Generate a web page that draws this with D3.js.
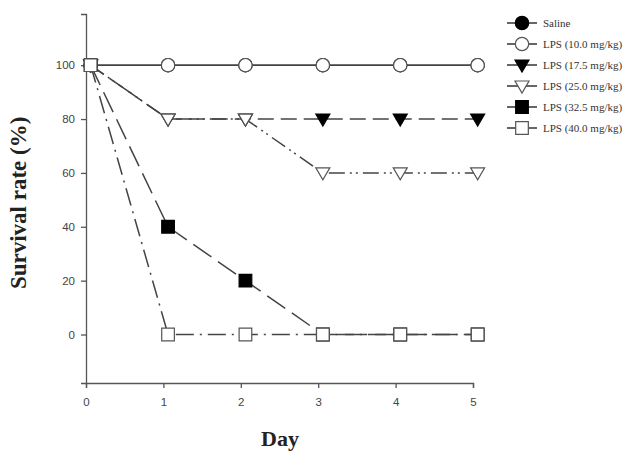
<!DOCTYPE html>
<html>
<head>
<meta charset="utf-8">
<script src="https://cdn.jsdelivr.net/npm/d3@7"></script>
<style>
  body { margin: 0; background: #fff; }
  svg { display: block; }
</style>
</head>
<body>
<div id="chart"></div>
<script>
// markers sit slightly right of the integer ticks in the original
const days = [0.06, 1.06, 2.06, 3.06, 4.06, 5.06];
const xTicks = [0, 1, 2, 3, 4, 5];
const yTicks = [0, 20, 40, 60, 80, 100];

const seriesNames = ["Saline", "LPS (10.0 mg/kg)", "LPS (17.5 mg/kg)", "LPS (25.0 mg/kg)", "LPS (32.5 mg/kg)", "LPS (40.0 mg/kg)"];
const saline = [100, 100, 100, 100, 100, 100];
const lps10 = [100, 100, 100, 100, 100, 100];
const lps175 = [100, 80, 80, 80, 80, 80];
const lps25 = [100, 80, 80, 60, 60, 60];
const lps325 = [100, 40, 20, 0, 0, 0];
const lps40 = [100, 0, 0, 0, 0, 0];

const styles = [
  { symbol: d3.symbolCircle, fill: "#000", dash: null },
  { symbol: d3.symbolCircle, fill: "#fff", dash: null },
  { symbol: "tri", fill: "#000", dash: "16,7" },
  { symbol: "tri", fill: "#fff", dash: "16,5,2,4,2,5" },
  { symbol: d3.symbolSquare, fill: "#000", dash: "22,8" },
  { symbol: d3.symbolSquare, fill: "#fff", dash: "18,6,2,6" }
];

const series = [saline, lps10, lps175, lps25, lps325, lps40].map((vals, i) => ({
  name: seriesNames[i],
  values: vals.map((v, j) => ({ day: days[j], rate: v })),
  style: styles[i]
}));

const svg = d3.select("#chart").append("svg")
  .attr("width", 642)
  .attr("height", 451);

const x = d3.scaleLinear().domain([0, 5]).range([86, 473]);
const y = d3.scaleLinear().domain([-18, 119]).range([383, 14]);

const grey = "#555";

// axes
svg.append("g")
  .attr("transform", `translate(0,${y(-18)})`)
  .call(d3.axisBottom(x).tickValues(xTicks).tickFormat(d3.format("d")).tickSize(5).tickPadding(10))
  .call(g => g.select(".domain").attr("stroke", grey).attr("stroke-width", 1.3))
  .call(g => g.selectAll("line").attr("stroke", grey).attr("stroke-width", 1.3))
  .call(g => g.selectAll("text").attr("font-family", "Liberation Sans, Arial, sans-serif").attr("font-size", 11.5).attr("fill", "#444"));

svg.append("g")
  .attr("transform", `translate(${x(0)},0)`)
  .call(d3.axisLeft(y).tickValues(yTicks).tickSize(5).tickPadding(6))
  .call(g => g.select(".domain").attr("stroke", grey).attr("stroke-width", 1.3))
  .call(g => g.selectAll("line").attr("stroke", grey).attr("stroke-width", 1.3))
  .call(g => g.selectAll("text").attr("font-family", "Liberation Sans, Arial, sans-serif").attr("font-size", 11.5).attr("fill", "#444"));

// axis titles
svg.append("text")
  .attr("transform", `translate(26,${y(50) + 3}) rotate(-90)`)
  .attr("text-anchor", "middle")
  .attr("font-family", "Liberation Serif, Times New Roman, serif")
  .attr("font-weight", "bold")
  .attr("font-size", 23)
  .attr("fill", "#222")
  .text("Survival rate (%)");

svg.append("text")
  .attr("x", 280)
  .attr("y", 446)
  .attr("text-anchor", "middle")
  .attr("font-family", "Liberation Serif, Times New Roman, serif")
  .attr("font-weight", "bold")
  .attr("font-size", 22)
  .attr("fill", "#222")
  .text("Day");

const line = d3.line().x(d => x(d.day)).y(d => y(d.rate));

function marker(sel, s) {
  if (s.symbol === "tri") {
    sel.append("path").attr("d", "M-7,-5 L7,-5 L0,7 Z");
  } else if (s.symbol === d3.symbolSquare) {
    sel.append("path").attr("d", d3.symbol(d3.symbolSquare, 160)());
  } else {
    sel.append("path").attr("d", d3.symbol(d3.symbolCircle, 140)());
  }
  sel.select("path")
    .attr("fill", s.fill)
    .attr("stroke", s.fill === "#000" ? "#000" : grey)
    .attr("stroke-width", 1.2);
}

series.forEach(s => {
  const g = svg.append("g");
  g.append("path")
    .datum(s.values)
    .attr("d", line)
    .attr("fill", "none")
    .attr("stroke", "#444")
    .attr("stroke-width", 1.5)
    .attr("stroke-dasharray", s.style.dash);
  g.selectAll("g.pt")
    .data(s.values)
    .enter().append("g")
    .attr("class", "pt")
    .attr("transform", d => `translate(${x(d.day)},${y(d.rate)})`)
    .each(function() { marker(d3.select(this), s.style); });
});

// legend
const legend = svg.append("g").attr("transform", "translate(507,23)");
series.forEach((s, i) => {
  const row = legend.append("g").attr("transform", `translate(0,${i * 21})`);
  row.append("line")
    .attr("x1", 0).attr("x2", 30)
    .attr("stroke", "#333").attr("stroke-width", 1.5);
  const m = row.append("g").attr("transform", "translate(15,0)");
  marker(m, s.style);
  row.append("text")
    .attr("x", 36)
    .attr("y", 4)
    .attr("font-family", "Liberation Serif, Times New Roman, serif")
    .attr("font-size", 11)
    .attr("fill", "#333")
    .text(s.name);
});
</script>
</body>
</html>
